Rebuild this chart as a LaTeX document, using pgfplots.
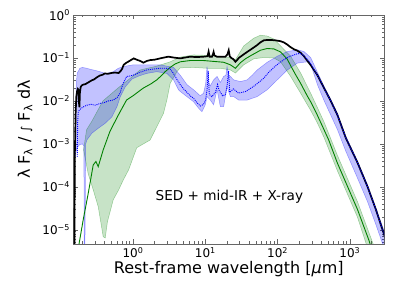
\documentclass[border=0pt]{standalone}
\usepackage{fontspec}
\setmainfont{DejaVu Sans}
\usepackage{pgfplots}
\usepackage{pgfplotstable}
\pgfplotsset{compat=1.18}
\usepgfplotslibrary{fillbetween}
\definecolor{mplgreen}{rgb}{0,0.5,0}

% all values are log10(wavelength / micron) and log10(lambda F_lambda / int F_lambda)
\pgfplotstableread{
x y
-0.812 -5.6
-0.805 -3.2
-0.795 -2.3
-0.785 -1.90
-0.775 -1.78
-0.765 -1.72
-0.755 -1.74
-0.748 -2.05
-0.742 -2.15
-0.735 -1.80
-0.725 -1.68
-0.71 -1.64
-0.69 -1.62
-0.66 -1.61
-0.63 -1.58
-0.60 -1.55
-0.57 -1.52
-0.54 -1.50
-0.50 -1.45
-0.46 -1.41
-0.42 -1.39
-0.39 -1.36
-0.35 -1.37
-0.30 -1.35
-0.25 -1.34
-0.20 -1.35
-0.17 -1.30
-0.15 -1.25
-0.13 -1.16
-0.10 -1.12
-0.06 -1.08
-0.02 -1.04
0.01 -1.01
0.05 -1.04
0.10 -1.07
0.143 -1.11
0.19 -1.07
0.236 -1.05
0.30 -1.04
0.375 -1.01
0.43 -0.99
0.49 -0.97
0.56 -0.99
0.653 -1.01
0.72 -0.99
0.79 -0.97
0.88 -0.98
0.976 -0.97
1.03 -0.96
1.046 -0.85
1.06 -0.97
1.093 -0.97
1.108 -0.90
1.115 -0.86
1.125 -0.94
1.16 -0.97
1.22 -0.97
1.278 -0.97
1.305 -0.92
1.324 -0.82
1.338 -0.96
1.36 -1.00
1.39 -1.03
1.417 -1.09
1.44 -1.05
1.463 -1.00
1.52 -0.93
1.579 -0.86
1.65 -0.78
1.718 -0.70
1.76 -0.64
1.81 -0.59
1.86 -0.58
1.903 -0.58
1.97 -0.59
2.042 -0.61
2.09 -0.64
2.135 -0.69
2.181 -0.75
2.23 -0.80
2.274 -0.83
2.319 -0.88
2.365 -0.96
2.41 -1.06
2.46 -1.17
2.551 -1.40
2.643 -1.70
2.736 -2.00
2.829 -2.33
2.944 -2.86
3.107 -3.44
3.246 -4.00
3.361 -4.53
3.49 -5.19
}\blackline

\pgfplotstableread{
x y
-0.772 -3.3
-0.766 -2.5
-0.758 -2.25
-0.736 -2.20
-0.70 -2.15
-0.643 -2.10
-0.58 -2.08
-0.52 -2.10
-0.458 -2.06
-0.40 -2.04
-0.34 -2.00
-0.274 -1.98
-0.22 -1.92
-0.18 -1.82
-0.155 -1.68
-0.135 -1.59
-0.11 -1.50
-0.088 -1.43
-0.04 -1.42
0.004 -1.40
0.10 -1.33
0.19 -1.28
0.28 -1.26
0.375 -1.24
0.46 -1.24
0.514 -1.26
0.56 -1.36
0.607 -1.50
0.653 -1.62
0.70 -1.72
0.746 -1.80
0.79 -1.88
0.838 -1.94
0.88 -2.03
0.93 -2.12
0.975 -2.08
1.0 -2.00
1.024 -1.75
1.04 -1.30
1.055 -1.85
1.09 -1.90
1.14 -1.80
1.17 -1.62
1.19 -1.75
1.24 -1.88
1.28 -1.85
1.305 -1.6
1.322 -1.30
1.338 -1.80
1.39 -1.72
1.46 -1.82
1.56 -1.78
1.67 -1.66
1.76 -1.54
1.81 -1.47
1.88 -1.33
1.949 -1.22
2.02 -1.12
2.088 -1.04
2.16 -0.97
2.226 -0.93
2.28 -0.90
2.319 -0.90
2.365 -0.95
2.41 -1.03
2.46 -1.14
2.551 -1.40
2.643 -1.70
2.736 -2.00
2.829 -2.33
2.944 -2.86
3.107 -3.44
3.246 -4.00
3.361 -4.53
3.49 -5.19
}\bluemed

\pgfplotstableread{
x y
-0.80 -3.3
-0.785 -1.6
-0.774 -1.36
-0.736 -1.24
-0.70 -1.22
-0.643 -1.24
-0.60 -1.26
-0.551 -1.28
-0.50 -1.30
-0.458 -1.32
-0.40 -1.35
-0.365 -1.36
-0.32 -1.34
-0.274 -1.32
-0.204 -1.24
-0.135 -1.20
0.004 -1.16
0.19 -1.16
0.375 -1.16
0.56 -1.22
0.653 -1.40
0.746 -1.62
0.838 -1.74
0.93 -1.88
0.976 -1.82
1.005 -1.60
1.024 -1.20
1.045 -1.55
1.069 -1.65
1.115 -1.51
1.163 -1.43
1.208 -1.57
1.254 -1.43
1.285 -1.40
1.301 -1.20
1.32 -1.40
1.347 -1.43
1.393 -1.51
1.486 -1.55
1.579 -1.51
1.65 -1.40
1.718 -1.28
1.857 -1.10
1.996 -0.96
2.135 -0.85
2.274 -0.81
2.365 -0.85
2.458 -0.99
2.551 -1.33
2.643 -1.66
2.736 -1.96
2.829 -2.29
2.944 -2.82
3.107 -3.40
3.246 -3.96
3.361 -4.49
3.50 -5.15
}\blueup

\pgfplotstableread{
x y
-0.80 -3.3
-0.78 -3.1
-0.74 -3.02
-0.70 -3.0
-0.68 -3.05
-0.675 -5.8
-0.668 -5.8
-0.655 -3.0
-0.639 -2.91
-0.569 -2.75
-0.476 -2.63
-0.385 -2.52
-0.292 -2.37
-0.222 -2.13
-0.176 -1.90
-0.107 -1.67
-0.014 -1.49
0.079 -1.42
0.19 -1.36
0.329 -1.32
0.468 -1.36
0.56 -1.51
0.629 -1.74
0.653 -1.78
0.746 -1.90
0.838 -2.02
0.907 -2.17
0.954 -2.25
1.0 -2.09
1.024 -1.90
1.069 -1.98
1.115 -2.09
1.163 -1.74
1.208 -2.13
1.254 -2.13
1.301 -1.67
1.347 -1.90
1.393 -1.90
1.463 -1.98
1.579 -1.98
1.718 -1.90
1.857 -1.74
1.996 -1.51
2.135 -1.28
2.274 -1.12
2.41 -1.09
2.458 -1.14
2.551 -1.62
2.643 -1.99
2.736 -2.33
2.829 -2.67
2.944 -3.17
3.107 -3.80
3.246 -4.35
3.361 -4.88
3.50 -5.55
}\bluelow

\pgfplotstableread{
x y
-0.765 -5.5
-0.69 -4.77
-0.62 -4.15
-0.551 -3.49
-0.514 -3.41
-0.482 -3.53
-0.413 -3.14
-0.32 -2.71
-0.204 -2.33
-0.09 -1.98
0.0 -1.88
0.143 -1.70
0.25 -1.60
0.329 -1.51
0.40 -1.40
0.444 -1.32
0.514 -1.22
0.583 -1.14
0.653 -1.09
0.79 -1.06
0.976 -1.06
1.115 -1.08
1.254 -1.10
1.347 -1.16
1.417 -1.24
1.486 -1.11
1.555 -1.02
1.625 -0.95
1.70 -0.88
1.764 -0.82
1.857 -0.78
1.949 -0.79
2.042 -0.86
2.135 -1.03
2.181 -1.18
2.25 -1.39
2.319 -1.59
2.41 -1.88
2.458 -2.02
2.55 -2.33
2.643 -2.67
2.708 -2.91
2.829 -3.45
2.968 -3.99
3.107 -4.53
3.268 -5.26
3.30 -5.45
}\greenline

\pgfplotstableread{
x y
-0.685 -3.14
-0.643 -2.67
-0.569 -2.47
-0.417 -2.00
-0.208 -1.70
-0.014 -1.44
0.097 -1.28
0.329 -1.19
0.514 -1.09
0.653 -0.98
0.838 -0.93
1.024 -0.94
1.208 -0.96
1.347 -0.99
1.417 -1.04
1.532 -0.72
1.671 -0.54
1.764 -0.47
1.857 -0.49
1.949 -0.56
2.042 -0.72
2.181 -0.96
2.319 -1.35
2.458 -1.82
2.55 -2.15
2.643 -2.49
2.829 -3.27
2.968 -3.81
3.107 -4.35
3.268 -5.08
3.35 -5.45
}\greenup

\pgfplotstableread{
x y
-0.685 -3.14
-0.62 -3.7
-0.551 -4.07
-0.482 -4.46
-0.413 -5.16
-0.385 -5.19
-0.354 -4.81
-0.274 -4.30
-0.199 -4.07
-0.135 -3.84
-0.06 -3.60
0.051 -3.09
0.236 -2.91
0.329 -2.60
0.421 -2.29
0.468 -1.98
0.514 -1.59
0.607 -1.32
0.653 -1.23
0.838 -1.22
1.024 -1.24
1.208 -1.24
1.347 -1.28
1.417 -1.35
1.532 -1.16
1.671 -1.02
1.81 -0.99
1.949 -1.00
2.042 -1.09
2.181 -1.43
2.319 -1.82
2.458 -2.22
2.55 -2.51
2.643 -2.85
2.829 -3.63
2.968 -4.17
3.107 -4.71
3.25 -5.45
}\greenlow

\begin{document}
\begin{tikzpicture}
\begin{axis}[
  at={(0pt,0pt)}, anchor=south west,
  scale only axis, width=310.5pt, height=229pt,
  xmin=-0.824, xmax=3.473, ymin=-5.33, ymax=0,
  xtick={0,1,2,3},
  xticklabels={10\textsuperscript{0},10\textsuperscript{1},10\textsuperscript{2},10\textsuperscript{3}},
  minor xtick={-0.69897,-0.52288,-0.39794,-0.30103,-0.22185,-0.15490,-0.09691,-0.04576,
    0.30103,0.47712,0.60206,0.69897,0.77815,0.84510,0.90309,0.95424,
    1.30103,1.47712,1.60206,1.69897,1.77815,1.84510,1.90309,1.95424,
    2.30103,2.47712,2.60206,2.69897,2.77815,2.84510,2.90309,2.95424,
    3.30103},
  ytick={-5,-4,-3,-2,-1,0},
  yticklabels={10\textsuperscript{−5},10\textsuperscript{−4},10\textsuperscript{−3},10\textsuperscript{−2},10\textsuperscript{−1},10\textsuperscript{0}},
  minor ytick={-5.30103,-5.22185,-5.15490,-5.09691,-5.04576,
    -4.69897,-4.52288,-4.39794,-4.30103,-4.22185,-4.15490,-4.09691,-4.04576,
    -3.69897,-3.52288,-3.39794,-3.30103,-3.22185,-3.15490,-3.09691,-3.04576,
    -2.69897,-2.52288,-2.39794,-2.30103,-2.22185,-2.15490,-2.09691,-2.04576,
    -1.69897,-1.52288,-1.39794,-1.30103,-1.22185,-1.15490,-1.09691,-1.04576,
    -0.69897,-0.52288,-0.39794,-0.30103,-0.22185,-0.15490,-0.09691,-0.04576},
  tick label style={font=\fontsize{12}{14}\selectfont},
  tick align=inside, xtick pos=both, ytick pos=both,
  xticklabel pos=lower, yticklabel pos=left,
  major tick length=4.5pt, minor tick length=2.5pt,
  axis line style={black!60},
  every tick/.style={black!60, line width=0.6pt},
  xlabel={Rest-frame wavelength [\textit{μ}m]},
  ylabel={λ F\textsubscript{λ} / {\large∫} F\textsubscript{λ} dλ},
  label style={font=\fontsize{16}{19}\selectfont},
  xlabel style={at={(axis description cs:0.5,0)}, anchor=center, yshift=-25pt},
  ylabel style={at={(axis description cs:0,0.5)}, anchor=center, rotate=0, yshift=48.5pt},
]
% green band
\addplot[name path=gu, draw=mplgreen, draw opacity=0.35, line width=0.5pt] table[x=x, y=y] {\greenup};
\addplot[name path=gl, draw=mplgreen, draw opacity=0.35, line width=0.5pt] table[x=x, y=y] {\greenlow};
\addplot[fill=mplgreen, fill opacity=0.22, draw=none] fill between[of=gu and gl];
% blue band
\addplot[name path=bu, draw=blue, draw opacity=0.35, line width=0.5pt] table[x=x, y=y] {\blueup};
\addplot[name path=bl, draw=blue, draw opacity=0.35, line width=0.5pt] table[x=x, y=y] {\bluelow};
\addplot[fill=blue, fill opacity=0.24, draw=none] fill between[of=bu and bl];
% lines
\addplot[mplgreen, line width=0.9pt] table[x=x, y=y] {\greenline};
\addplot[black, line width=1.7pt] table[x=x, y=y] {\blackline};
\addplot[blue, line width=0.9pt, dash pattern=on 1pt off 1pt] table[x=x, y=y] {\bluemed};
\node[font=\fontsize{13.6}{16}\selectfont] at (axis cs:1.333,-4.23) {SED + mid-IR + X-ray};
\end{axis}
\pgfresetboundingbox
\useasboundingbox (-73.5pt,-52pt) rectangle (320.5pt,244pt);
\end{tikzpicture}
\end{document}
